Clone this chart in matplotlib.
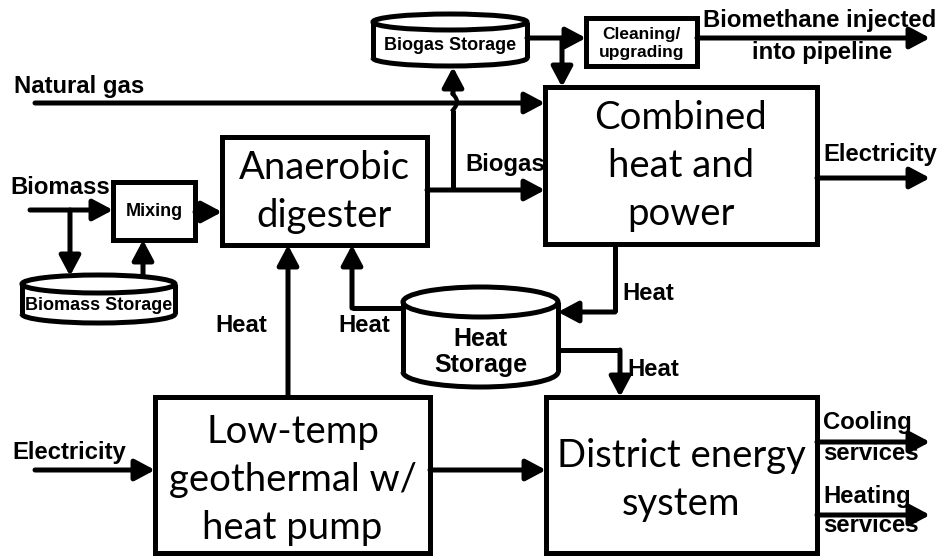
import matplotlib
matplotlib.use("Agg")
import matplotlib.pyplot as plt
from matplotlib.patches import Rectangle, Ellipse, Arc
import numpy as np

# ---- diagram content ----
box_titles = ["Anaerobic\ndigester", "Combined\nheat and\npower",
              "Low-temp\ngeothermal w/\nheat pump", "District energy\nsystem"]
small_boxes = ["Mixing", "Cleaning/\nupgrading"]
storages = ["Biogas Storage", "Biomass Storage", "Heat\nStorage"]
flow_labels = ["Natural gas", "Biomass", "Biogas", "Electricity", "Electricity",
               "Heat", "Heat", "Heat", "Heat",
               "Biomethane injected", "into pipeline",
               "Cooling", "services", "Heating", "services"]

W, H = 941, 557
fig = plt.figure(figsize=(W / 100, H / 100), dpi=100)
ax = fig.add_axes([0, 0, 1, 1])
ax.set_xlim(0, W)
ax.set_ylim(H, 0)
ax.axis("off")

LW = 3.6
BIG = dict(family="Lato", fontsize=27.5, ha="center", va="center", linespacing=1.42)
LAB = dict(family="Liberation Sans", fontweight="bold", fontsize=17.2)


def box(x0, y0, x1, y1):
    ax.add_patch(Rectangle((x0, y0), x1 - x0, y1 - y0, fill=True, fc="white",
                           ec="black", lw=LW, joinstyle="miter", zorder=3))


def cylinder(x0, x1, ytop, ybot, eh):
    cx = (x0 + x1) / 2
    w = x1 - x0
    ax.add_patch(Rectangle((x0, ytop), w, ybot - ytop, fc="white", ec="none", zorder=3))
    ax.add_patch(Ellipse((cx, ybot), w, eh, fc="white", ec="none", zorder=3))
    ax.add_patch(Ellipse((cx, ytop), w, eh, fc="white", ec="black", lw=LW, zorder=4))
    ax.add_patch(Arc((cx, ybot), w, eh, theta1=0, theta2=180, ec="black", lw=LW, zorder=4))
    ax.plot([x0, x0], [ytop, ybot], color="black", lw=LW, zorder=4, solid_capstyle="butt")
    ax.plot([x1, x1], [ytop, ybot], color="black", lw=LW, zorder=4, solid_capstyle="butt")


def line(xs, ys):
    ax.plot(xs, ys, color="black", lw=LW, solid_capstyle="butt",
            solid_joinstyle="miter", zorder=2)


def arrow(pts):
    pts = list(pts)
    if len(pts) > 2:
        xs = [p[0] for p in pts[:-1]]
        ys = [p[1] for p in pts[:-1]]
        line(xs, ys)
    ax.annotate("", xy=pts[-1], xytext=pts[-2],
                arrowprops=dict(arrowstyle="-|>,head_length=0.75,head_width=0.4",
                                lw=LW, color="black", shrinkA=0, shrinkB=0,
                                mutation_scale=16),
                zorder=5)


# ---- big boxes ----
box(222, 137, 427, 245)
ax.text(324.5, 192, box_titles[0], zorder=6, **BIG)
box(545, 87, 817, 244)
ax.text(681, 166, box_titles[1], zorder=6, **BIG)
box(155, 397, 430, 553)
ax.text(292.5, 480, box_titles[2], zorder=6, **BIG)
box(546, 397, 817, 553)
ax.text(681.5, 480, box_titles[3], zorder=6, **BIG)

# ---- small boxes ----
box(113, 182, 195, 240)
ax.text(154, 212, small_boxes[0], ha="center", va="center", zorder=6,
        family="Liberation Sans", fontweight="bold", fontsize=13)
box(586, 18, 697, 66)
ax.text(641.5, 43, small_boxes[1], ha="center", va="center", zorder=6,
        family="Liberation Sans", fontweight="bold", fontsize=12.5, linespacing=1.25)

# ---- storages ----
cylinder(373, 527, 22, 58, 16)
ax.text(450, 45, storages[0], ha="center", va="center", zorder=6,
        family="Liberation Sans", fontweight="bold", fontsize=13)
cylinder(22, 175, 284, 314, 18)
ax.text(98.5, 306, storages[1], ha="center", va="center", zorder=6,
        family="Liberation Sans", fontweight="bold", fontsize=13)
cylinder(403, 558, 302, 372, 30)
ax.text(480.5, 352, storages[2], ha="center", va="center", zorder=6,
        family="Liberation Sans", fontweight="bold", fontsize=18, linespacing=1.15)

# ---- flows ----
# natural gas
arrow([(35, 103), (545, 103)])
ax.text(14, 87, flow_labels[0], va="center", ha="left", **LAB)

# biomass
arrow([(30, 210), (113, 210)])
ax.text(10, 188, flow_labels[1], va="center", ha="left", **LAB)
arrow([(70, 210), (70, 276)])
arrow([(143, 276), (143, 240)])
arrow([(195, 212), (222, 212)])

# biogas
arrow([(427, 190), (545, 190)])
ax.text(465, 165, flow_labels[2], va="center", ha="left", **LAB)
line([453, 453], [190, 110])
# small hop over the natural-gas line
t = np.linspace(0, np.pi, 20)
ax.plot(453 + 4 * np.sin(t), 110 - 16 * t / np.pi, color="black", lw=LW - 0.6, zorder=2)
arrow([(453, 94), (453, 67)])

# biogas storage -> cleaning & CHP
arrow([(527, 38), (586, 38)])
arrow([(562, 38), (562, 87)])
arrow([(697, 38), (930, 38)])
ax.text(820, 20, flow_labels[9], va="center", ha="center", **LAB)
ax.text(822, 52, flow_labels[10], va="center", ha="center", **LAB)

# electricity out of CHP
arrow([(817, 178), (930, 178)])
ax.text(823, 155, flow_labels[3], va="center", ha="left", **LAB)

# electricity into geothermal
arrow([(35, 470), (155, 470)])
ax.text(12, 452, flow_labels[4], va="center", ha="left", **LAB)

# geothermal -> district
arrow([(430, 470), (546, 470)])

# geothermal -> digester (heat)
arrow([(288, 397), (288, 245)])
ax.text(215, 325, flow_labels[5], va="center", ha="left", **LAB)

# CHP -> heat storage
arrow([(615, 244), (615, 312), (558, 312)])
ax.text(622, 293, flow_labels[6], va="center", ha="left", **LAB)

# heat storage -> digester
arrow([(403, 308), (352, 308), (352, 245)])
ax.text(338, 325, flow_labels[7], va="center", ha="left", **LAB)

# heat storage -> district
arrow([(558, 350), (620, 350), (620, 397)])
ax.text(627, 370, flow_labels[8], va="center", ha="left", **LAB)

# district outputs
arrow([(817, 442), (930, 442)])
ax.text(823, 423, flow_labels[11], va="center", ha="left", **LAB)
ax.text(823, 453, flow_labels[12], va="center", ha="left", zorder=6, **LAB)
arrow([(817, 515), (930, 515)])
ax.text(823, 497, flow_labels[13], va="center", ha="left", **LAB)
ax.text(823, 525, flow_labels[14], va="center", ha="left", zorder=6, **LAB)

fig.savefig("out.png", dpi=100, facecolor="white")
